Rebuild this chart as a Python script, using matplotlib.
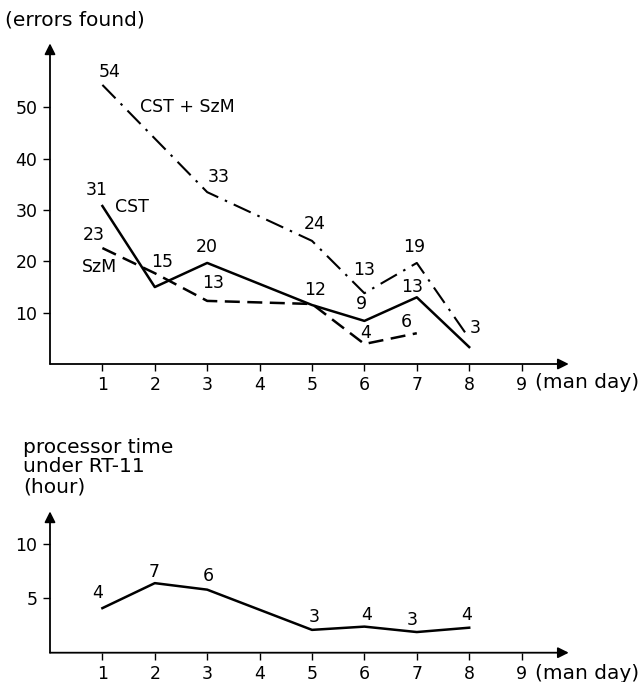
import matplotlib
matplotlib.use("Agg")
import matplotlib.pyplot as plt

plt.rcParams.update({
    "font.family": "DejaVu Sans",
    "font.size": 12.5,
})
WORD_SIZE = 14.5

# ---- data ----
# top panel: errors found per man day
days_both = [1, 3, 5, 6, 7, 8]
errors_both = [54.4, 33.5, 24.0, 13.8, 19.7, 5.0]
labels_both = ["54", "33", "24", "13", "19", "3"]

days_cst = [1, 2, 3, 5, 6, 7, 8]
errors_cst = [30.8, 15.0, 19.7, 11.5, 8.4, 13.0, 3.3]
labels_cst = ["31", "15", "20", "12", "9", "13", ""]

days_szm = [1, 2, 3, 5, 6, 7]
errors_szm = [22.6, 17.7, 12.3, 11.7, 3.9, 6.0]
labels_szm = ["23", "", "13", "", "4", "6"]

# bottom panel: processor time under RT-11
days_cpu = [1, 2, 3, 5, 6, 7, 8]
hours_cpu = [4.1, 6.4, 5.8, 2.1, 2.4, 1.9, 2.3]
labels_cpu = ["4", "7", "6", "3", "4", "3", "4"]

x_ticks = [1, 2, 3, 4, 5, 6, 7, 8, 9]

# label offsets in pixels (dx, dy) relative to each point
off_both = [(7, 13), (11, 15), (3, 17), (0, 23), (-3, 16), (6, 10)]
off_cst = [(-6, 16), (7, 25), (0, 16), (3, 15), (-3, 17), (-5, 10), (0, 0)]
off_szm = [(-9, 13), (0, 0), (6, 18), (0, 0), (1, 11), (-10, 11)]
off_cpu = [(-5, 15), (-1, 11), (1, 14), (2, 13), (2, 12), (-5, 12), (-3, 13)]

W, H = 643, 682
fig = plt.figure(figsize=(W / 100, H / 100), dpi=100)

# axes placed so that x=0 sits on the drawn y-axis
ax1 = fig.add_axes([50 / W, (H - 364) / H, 11.3 * 52.4 / W, 63 * 5.13 / H])
ax2 = fig.add_axes([50 / W, (H - 652.7) / H, 11.3 * 52.4 / W, 13.5 * 10.87 / H])
ax1.set_xlim(0, 11.3)
ax1.set_ylim(0, 63)
ax2.set_xlim(0, 11.3)
ax2.set_ylim(0, 13.5)


def frame(ax, ytop, yticks, xlabel_y):
    for s in ax.spines.values():
        s.set_visible(False)
    arrow = dict(arrowstyle="-|>", lw=1.3, color="k", mutation_scale=16,
                 shrinkA=0, shrinkB=0)
    ax.annotate("", xy=(9.9, 0), xytext=(0, 0), arrowprops=arrow,
                annotation_clip=False)
    ax.annotate("", xy=(0, ytop), xytext=(0, 0), arrowprops=arrow,
                annotation_clip=False)
    ax.set_xticks(x_ticks)
    ax.set_yticks(yticks)
    ax.tick_params(direction="out", length=5, width=1, pad=4)
    ax.text(9.25, xlabel_y, "(man day)", ha="left", va="center",
            fontsize=WORD_SIZE, clip_on=False)


frame(ax1, 62.5, [10, 20, 30, 40, 50], -3.6)
frame(ax2, 13.0, [5, 10], -1.9)

ax1.plot(days_both, errors_both, color="k", lw=1.5,
         dashes=(9, 3.5, 1.2, 3.5))
ax1.plot(days_cst, errors_cst, color="k", lw=1.8)
ax1.plot(days_szm, errors_szm, color="k", lw=1.8, dashes=(6, 3))
ax2.plot(days_cpu, hours_cpu, color="k", lw=1.8)


def put_labels(ax, xs, ys, texts, offs):
    for x, y, t, (dx, dy) in zip(xs, ys, texts, offs):
        if t:
            ax.annotate(t, xy=(x, y), xytext=(dx, dy),
                        textcoords="offset pixels", ha="center",
                        va="center", annotation_clip=False)


put_labels(ax1, days_both, errors_both, labels_both, off_both)
put_labels(ax1, days_cst, errors_cst, labels_cst, off_cst)
put_labels(ax1, days_szm, errors_szm, labels_szm, off_szm)
put_labels(ax2, days_cpu, hours_cpu, labels_cpu, off_cpu)

ax1.text(2.63, 50.1, "CST + SzM", ha="center", va="center")
ax1.text(1.56, 30.6, "CST", ha="center", va="center")
ax1.text(0.95, 18.9, "SzM", ha="center", va="center")

fig.text(5 / W, 1 - 20 / H, "(errors found)", ha="left", va="center",
         fontsize=WORD_SIZE)
fig.text(23 / W, 1 - 467 / H, "processor time\nunder RT-11\n(hour)",
         ha="left", va="center", linespacing=1.05, fontsize=WORD_SIZE)

fig.savefig("out.png", dpi=100)
